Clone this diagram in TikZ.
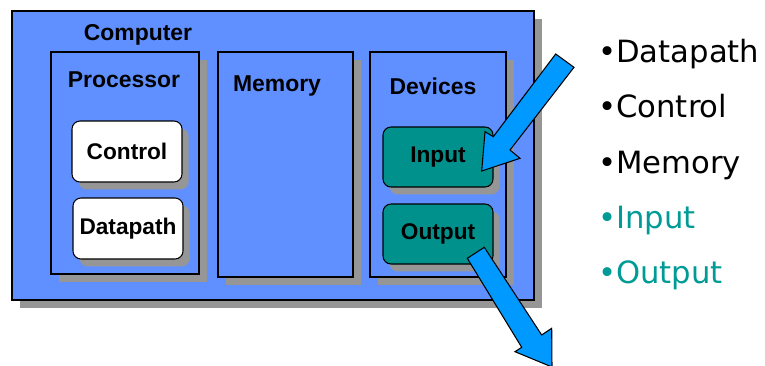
\documentclass[tikz,border=0pt]{standalone}
\usepackage{fontspec}
\setmainfont{Liberation Sans}
\newfontfamily\listfont{DejaVu Sans}
\usepackage{tikz}
\usetikzlibrary{shadows}

\definecolor{boxblue}{RGB}{96,144,255}
\definecolor{shadowgray}{RGB}{150,150,150}
\definecolor{ioteal}{RGB}{0,145,140}
\definecolor{listteal}{RGB}{0,155,150}
\definecolor{arrowblue}{RGB}{0,153,255}

\begin{document}
\begin{tikzpicture}[x=0.75pt,y=0.75pt,yscale=-1,xscale=1,
  panel/.style={draw=black, line width=0.8pt, fill=boxblue, inner sep=0pt,
    general shadow={fill=shadowgray, shadow xshift=6pt, shadow yshift=-6pt}},
  block/.style={draw=black, line width=0.8pt, rounded corners=6pt, inner sep=0pt,
    minimum width=82.5pt, font=\fontsize{17}{20}\selectfont\bfseries,
    general shadow={fill=shadowgray, shadow xshift=5pt, shadow yshift=-5.5pt}},
  tag/.style={inner sep=0pt, font=\fontsize{17.2}{20}\selectfont\bfseries},
  listitem/.style={anchor=base west, inner sep=0pt, font=\listfont\fontsize{23}{27}\selectfont},
  bigarrow/.style={draw=black, line width=0.8pt, fill=arrowblue, line join=miter}]
\useasboundingbox (0,0) rectangle (765,365);

%Shape: Rectangle
\node[panel, minimum width=391.5pt, minimum height=216.75pt] (computer) at (273,155.5) {};
%Shape: Rectangle
\node[panel, minimum width=111pt, minimum height=166.5pt] (processor) at (125,163) {};
%Shape: Rectangle
\node[panel, minimum width=101.25pt, minimum height=168.75pt] (memory) at (285.5,164.5) {};
%Shape: Rectangle
\node[panel, minimum width=102pt, minimum height=168.75pt] (devices) at (438,164.5) {};

%Rounded Rect
\node[block, fill=white, minimum height=45.75pt] (control) at (127,151.5) {Control};
%Rounded Rect
\node[block, fill=white, minimum height=45.75pt] (datapath) at (128,228.5) {Datapath};
%Rounded Rect
\node[block, fill=ioteal, minimum height=45pt] (input) at (438,157) {Input};
%Rounded Rect
\node[block, fill=ioteal, minimum height=45pt] (output) at (438,234) {Output};

% Text Node
\node[tag] (computertag) at (138,35) {Computer};
% Text Node
\node[tag] (processortag) at (124,80) {Processor};
% Text Node
\node[tag] (memorytag) at (277,86) {Memory};
% Text Node
\node[tag] (devicestag) at (433,86) {Devices};

%Shape: Right Arrow
\draw[bigarrow] (555.7,54) -- (493.3,136.7) -- (485,131.7) -- (481.7,171) -- (520,158.3) -- (510,150) -- (574,67.3) -- cycle;
%Shape: Right Arrow
\draw[bigarrow] (467.3,258.3) -- (521.7,347.3) -- (515,351.7) -- (552,367) -- (551.7,328.3) -- (541.7,335) -- (484.3,247.3) -- cycle;

% Text Node
\node[listitem] (ldatapath) at (598,62) {•Datapath};
% Text Node
\node[listitem] (lcontrol) at (598,117) {•Control};
% Text Node
\node[listitem] (lmemory) at (598,173) {•Memory};
% Text Node
\node[listitem, text=listteal] (linput) at (598,228) {•Input};
% Text Node
\node[listitem, text=listteal] (loutput) at (598,283) {•Output};

\end{tikzpicture}
\end{document}
